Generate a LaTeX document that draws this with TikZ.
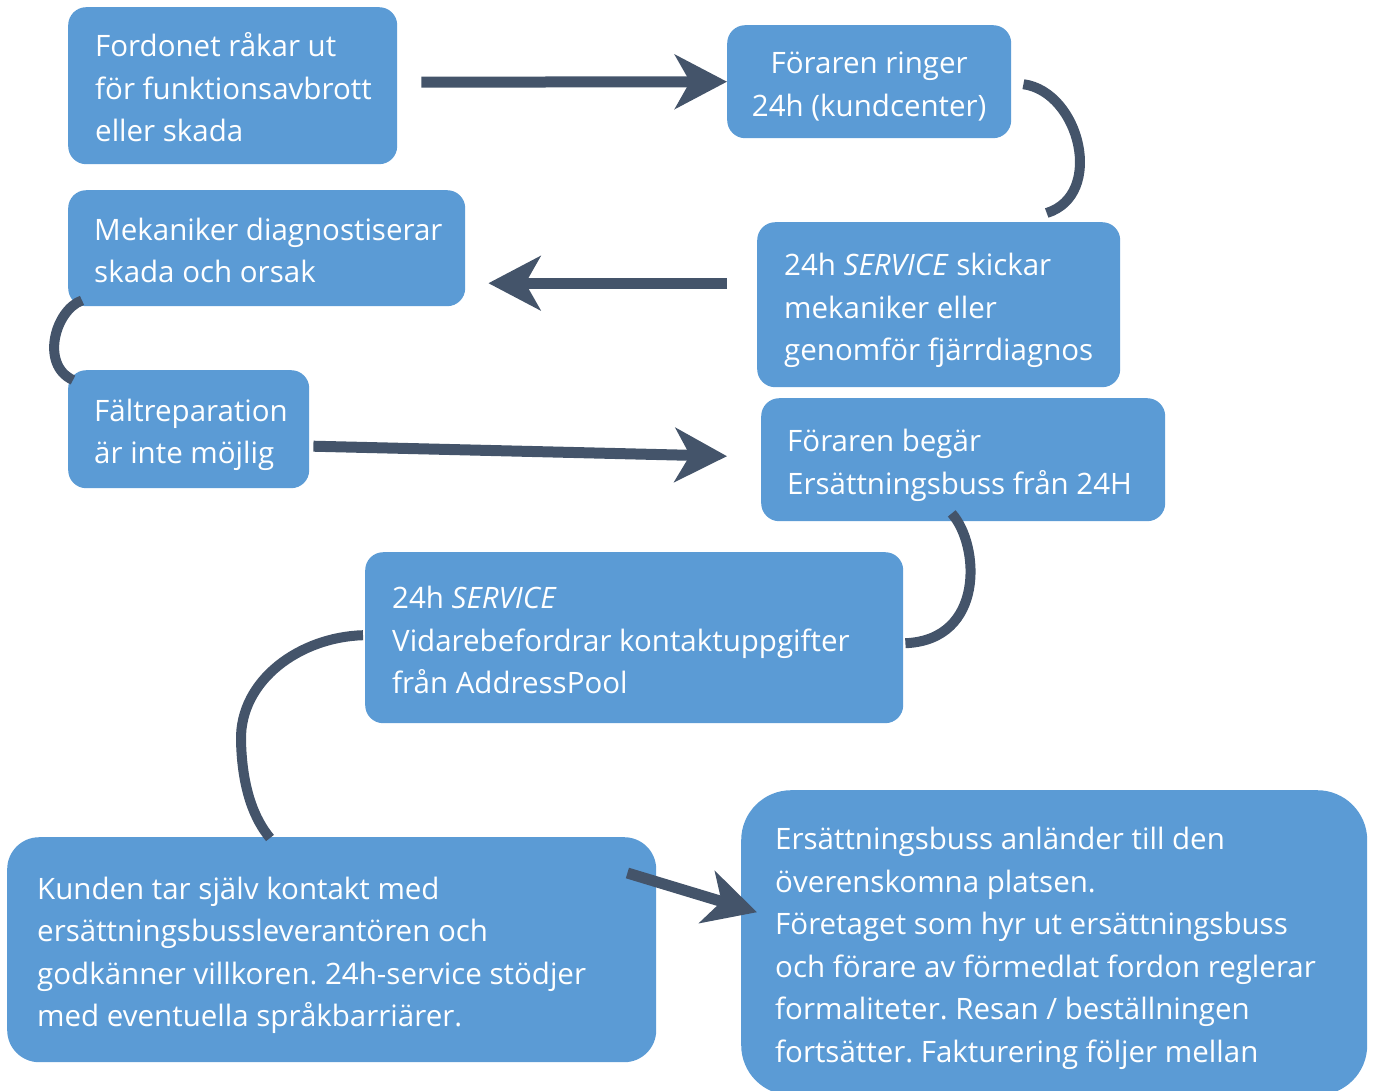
\documentclass[tikz,border=0pt]{standalone}
\usepackage{fontspec}
\setmainfont{Open Sans}
\usetikzlibrary{arrows.meta,calc}
\frenchspacing
\definecolor{boxblue}{HTML}{5B9BD5}
\definecolor{arrowdark}{HTML}{44546A}
\newcommand{\boxtxt}[2]{\makebox[#1][l]{\raisebox{0pt}[\dimexpr\height+10pt][\depth]{\begin{tabular}{@{}l@{}}#2\end{tabular}}}}
\newcommand{\ctrtxt}[1]{\raisebox{0pt}[\dimexpr\height+10pt][\depth]{\begin{tabular}{@{}c@{}}#1\end{tabular}}}
\begin{document}
\begin{tikzpicture}[x=1pt,y=-1pt,
  flowbox/.style={fill=boxblue, rounded corners=18pt, inner sep=0pt, anchor=north west,
    text=white, font=\fontsize{29.5}{42.5}\selectfont},
  bigarrow/.style={draw=arrowdark, line width=11pt,
    -{Stealth[length=52pt,width=54pt,inset=15pt]}},
  curvelink/.style={draw=arrowdark, line width=10pt}
]
\useasboundingbox (0,0) rectangle (1375,1090);
% boxes
\node[flowbox, minimum width=329pt, minimum height=157pt] (A) at (68,7)
  {\boxtxt{275pt}{Fordonet råkar ut\\för funktionsavbrott\\eller skada}};
\node[flowbox, minimum width=284pt, minimum height=113pt] (B) at (727,25)
  {\ctrtxt{Föraren ringer\\24h (kundcenter)}};
\node[flowbox, minimum width=363pt, minimum height=165pt] (C) at (757,222)
  {\boxtxt{309pt}{24h \textit{SERVICE} skickar\\mekaniker eller\\genomför fjärrdiagnos}};
\node[flowbox, minimum width=397pt, minimum height=116pt] (D) at (68,190)
  {\boxtxt{345pt}{Mekaniker diagnostiserar\\skada och orsak}};
\node[flowbox, minimum width=241pt, minimum height=118pt] (E) at (68,370)
  {\boxtxt{189pt}{Fältreparation\\är inte möjlig}};
\node[flowbox, minimum width=404pt, minimum height=123pt] (F) at (761,398)
  {\boxtxt{352pt}{Föraren begär\\Ersättningsbuss från 24H}};
\node[flowbox, minimum width=538pt, minimum height=171pt] (G) at (365,552)
  {\boxtxt{484pt}{24h \textit{SERVICE}\\Vidarebefordrar kontaktuppgifter\\från AddressPool}};
\node[flowbox, rounded corners=32pt, minimum width=649pt, minimum height=225pt] (H) at (7,837)
  {\boxtxt{589pt}{Kunden tar själv kontakt med\\ersättningsbussleverantören och\\godkänner villkoren. 24h-service stödjer\\med eventuella språkbarriärer.}};
\node[flowbox, rounded corners=50pt, minimum width=626pt, minimum height=305pt] (I) at (741,790)
  {\boxtxt{558pt}{Ersättningsbuss anländer till den\\överenskomna platsen.\\Företaget som hyr ut ersättningsbuss\\och förare av förmedlat fordon reglerar\\formaliteter. Resan / beställningen\\fortsätter. Fakturering följer mellan}};
% straight arrows
\draw[bigarrow] ($(A.east)+(24,-3.5)$) -- (B.west);
\draw[bigarrow] ($(C.west)+(-30,-21.5)$) -- ($(D.east)+(23,35)$);
\draw[bigarrow] ($(E.east)+(4,17)$) -- ($(F.west)+(-34,-3.5)$);
\draw[bigarrow] ($(H.north east)+(-29,36)$) -- ($(I.west)+(16,-30.5)$);
% curved connectors
\draw[curvelink] ($(B.east)+(12,2.5)$) .. controls (1080,92) and (1105,195) .. ($(C.north)+(108,-9)$);
\draw[curvelink] ($(D.south west)+(14,-6)$) .. controls (55,310) and (40,365) .. ($(E.north west)+(5,10)$);
\draw[curvelink] ($(F.south)+(-11.5,-8)$) .. controls (980,545) and (985,640) .. ($(G.east)+(2,5.5)$);
\draw[curvelink] ($(G.west)+(-2,-2.5)$) .. controls (300,637) and (240,680) .. (241,740)
  .. controls (242,790) and (255,820) .. ($(H.north west)+(263,1)$);
\end{tikzpicture}
\end{document}
